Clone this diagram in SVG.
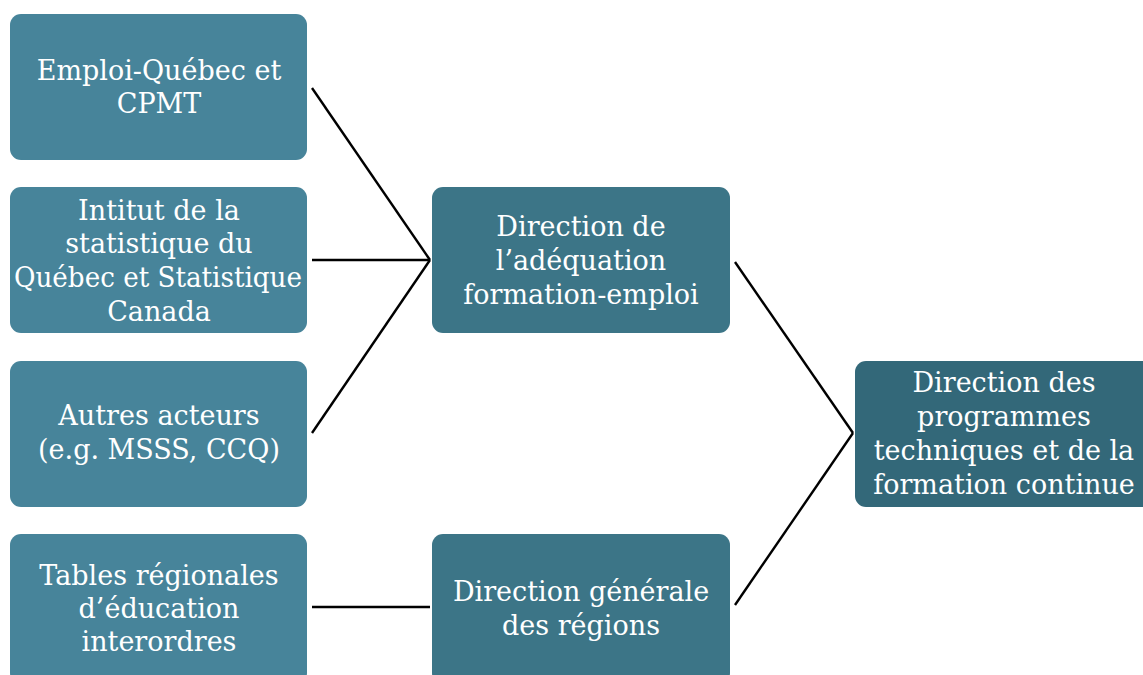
<svg xmlns="http://www.w3.org/2000/svg" width="1143" height="675" viewBox="0 0 1143 675">
<style>
.box{stroke:none}
.l{fill:#47849A}
.m{fill:#3C7587}
.r{fill:#336879}
text{font-family:"DejaVu Serif","Liberation Serif",serif;font-size:27px;fill:#FFFFFF;text-anchor:middle}
.c line{stroke:#000;stroke-width:2.4;fill:none}
</style>
<rect width="1143" height="675" fill="#FFFFFF"/>
<g class="c" id="connectors">
<line x1="312" y1="88" x2="430" y2="260"/>
<line x1="312" y1="260" x2="430" y2="260"/>
<line x1="312" y1="433" x2="430" y2="260"/>
<line x1="312" y1="607" x2="430" y2="607"/>
<line x1="735" y1="262" x2="853" y2="433"/>
<line x1="735" y1="605" x2="853" y2="433"/>
</g>
<g id="n1"><rect class="box l" x="10" y="14" width="297" height="146" rx="11"/>
<text x="159" y="80">Emploi-Québec et</text><text x="159" y="113">CPMT</text></g>
<g id="n2"><rect class="box l" x="10" y="187" width="297" height="146" rx="11"/>
<text x="159" y="220">Intitut de la</text><text x="159" y="253">statistique du</text><text x="158" y="287" textLength="288" lengthAdjust="spacingAndGlyphs">Québec et Statistique</text><text x="159" y="321">Canada</text></g>
<g id="n3"><rect class="box l" x="10" y="361" width="297" height="146" rx="11"/>
<text x="159" y="425">Autres acteurs</text><text x="159" y="459">(e.g. MSSS, CCQ)</text></g>
<g id="n4"><rect class="box l" x="10" y="534" width="297" height="150" rx="11"/>
<text x="159" y="585">Tables régionales</text><text x="159" y="618">d’éducation</text><text x="159" y="651">interordres</text></g>
<g id="n5"><rect class="box m" x="432" y="187" width="298" height="146" rx="11"/>
<text x="581" y="236">Direction de</text><text x="581" y="270">l’adéquation</text><text x="581" y="304">formation-emploi</text></g>
<g id="n6"><rect class="box m" x="432" y="534" width="298" height="150" rx="11"/>
<text x="581" y="601">Direction générale</text><text x="581" y="635">des régions</text></g>
<g id="n7"><rect class="box r" x="855" y="361" width="300" height="146" rx="11"/>
<text x="1004" y="392">Direction des</text><text x="1004" y="426">programmes</text><text x="1004" y="460">techniques et de la</text><text x="1004" y="494">formation continue</text></g>
</svg>
